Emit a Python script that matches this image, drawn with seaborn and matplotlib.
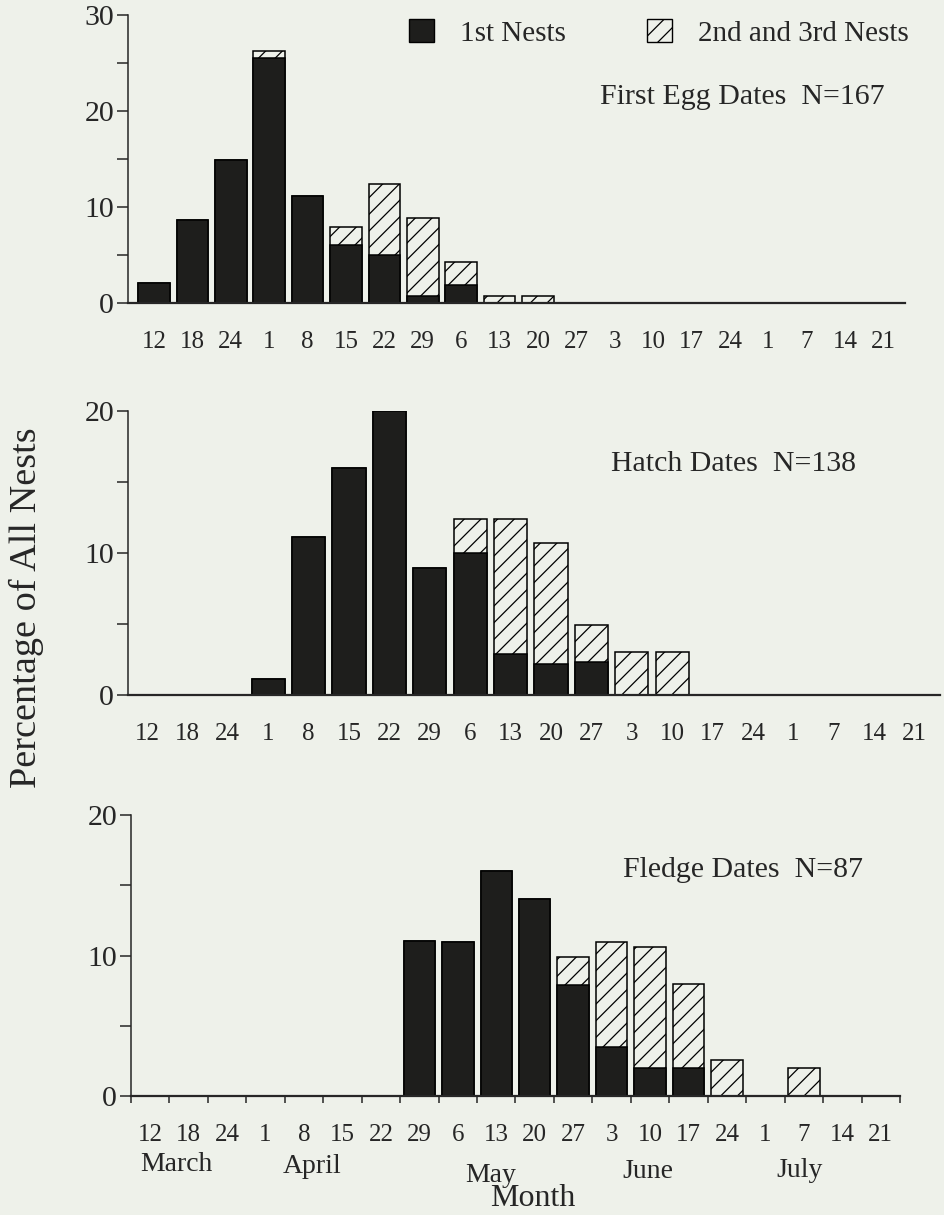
import matplotlib
matplotlib.use("Agg")
import matplotlib.pyplot as plt
from matplotlib.patches import Patch
import numpy as np
import seaborn as sns

# week labels along the x axis (March 12 ... July 21)
days = ["12", "18", "24", "1", "8", "15", "22", "29", "6", "13",
        "20", "27", "3", "10", "17", "24", "1", "7", "14", "21"]
months = ["March", "April", "May", "June", "July"]
month_pos = [0.68, 4.2, 8.85, 12.95, 16.9]

# percentage of all nests
egg_first = [2.1, 8.6, 14.9, 25.5, 11.1, 6.0, 5.0, 0.7, 1.9, 0, 0, 0, 0, 0, 0, 0, 0, 0, 0, 0]
egg_later = [0, 0, 0, 0.8, 0, 1.9, 7.4, 8.2, 2.4, 0.7, 0.7, 0, 0, 0, 0, 0, 0, 0, 0, 0]

hatch_first = [0, 0, 0, 1.1, 11.1, 16.0, 20.0, 8.9, 10.0, 2.9, 2.15, 2.3, 0, 0, 0, 0, 0, 0, 0, 0]
hatch_later = [0, 0, 0, 0, 0, 0, 0, 0, 2.4, 9.5, 8.55, 2.65, 3.0, 3.0, 0, 0, 0, 0, 0, 0]

fledge_first = [0, 0, 0, 0, 0, 0, 0, 11.0, 10.95, 16.0, 14.0, 7.9, 3.5, 2.0, 2.0, 0, 0, 0, 0, 0]
fledge_later = [0, 0, 0, 0, 0, 0, 0, 0, 0, 0, 0, 2.0, 7.45, 8.6, 6.0, 2.6, 0, 2.0, 0, 0]

BG = "#eef1ea"
DARK = "#1e1e1c"

sns.set_style("ticks")
plt.rcParams["font.family"] = ["Liberation Serif", "DejaVu Serif"]
plt.rcParams["hatch.linewidth"] = 0.9
plt.rcParams["hatch.color"] = "black"

fig = plt.figure(figsize=(9.45, 12.15), dpi=100, facecolor=BG)

# axes boxes in figure fractions
boxes = [
    [0.1354, 0.7506, 0.8222, 0.2370],
    [0.1354, 0.4280, 0.8593, 0.2340],
    [0.1386, 0.0979, 0.8138, 0.2313],
]
xlims = [(-0.68, 19.56), (-0.47, 19.63), (-0.5, 19.5)]
ymax = [30, 20, 20]
titles = ["First Egg Dates  N=167", "Hatch Dates  N=138", "Fledge Dates  N=87"]
title_xy = [(0.607, 0.715), (0.595, 0.8125), (0.640, 0.804)]
series = [(egg_first, egg_later), (hatch_first, hatch_later), (fledge_first, fledge_later)]

pos = list(range(len(days)))

for i, (first, later) in enumerate(series):
    ax = fig.add_axes(boxes[i])
    ax.set_facecolor(BG)
    total = np.array(first) + np.array(later)

    sns.barplot(x=pos, y=total, color=BG, edgecolor="black", linewidth=1.1,
                hatch="//", saturation=1, width=0.82, errorbar=None, ax=ax)
    sns.barplot(x=pos, y=first, color=DARK, edgecolor="black", linewidth=1.1,
                saturation=1, width=0.82, errorbar=None, ax=ax)

    ax.set_xlim(*xlims[i])
    ax.set_ylim(0, ymax[i])
    ax.set_xlabel("")
    ax.set_ylabel("")

    ax.set_yticks(np.arange(0, ymax[i] + 1, 10))
    ax.set_yticks(np.arange(5, ymax[i], 10), minor=True)
    ax.tick_params(axis="y", which="both", direction="out", length=8, width=1.1,
                   labelsize=21.5, pad=2)

    ax.set_xticks(pos)
    ax.set_xticklabels(days)
    ax.tick_params(axis="x", which="major", length=0, labelsize=18, pad=20)
    if i == 2:
        ax.set_xticks(np.arange(-0.5, len(days)), minor=True)
        ax.tick_params(axis="x", which="minor", direction="out", length=5, width=1.1)

    for s in ["top", "right"]:
        ax.spines[s].set_visible(False)
    ax.spines["left"].set_linewidth(1.1)
    ax.spines["bottom"].set_linewidth(1.6)

    ax.text(title_xy[i][0], title_xy[i][1], titles[i], transform=ax.transAxes,
            ha="left", va="center", fontsize=21.5)

    if i == 0:
        handles = [Patch(facecolor=DARK, edgecolor="black"),
                   Patch(facecolor=BG, edgecolor="black", hatch="//")]
        fig.legend(handles, ["1st Nests", "2nd and 3rd Nests"], ncol=2,
                   loc="center right", bbox_to_anchor=(0.962, 0.973),
                   bbox_transform=fig.transFigure, frameon=False, fontsize=21,
                   handlelength=0.85, handleheight=0.85, handletextpad=0.9,
                   columnspacing=2.8, borderpad=0, borderaxespad=0)
    if i == 2:
        tr = ax.get_xaxis_transform()
        month_y = [-0.245, -0.25, -0.283, -0.27, -0.265]
        for m, x, y in zip(months, month_pos, month_y):
            ax.text(x, y, m, transform=tr, ha="center", va="center", fontsize=20)
        ax.text(9.95, -0.365, "Month", transform=tr, ha="center", va="center", fontsize=23)

fig.text(0.028, 0.5, "Percentage of All Nests", rotation=90, ha="center",
         va="center", fontsize=27.5)

fig.savefig("out.png", dpi=100, facecolor=BG)
